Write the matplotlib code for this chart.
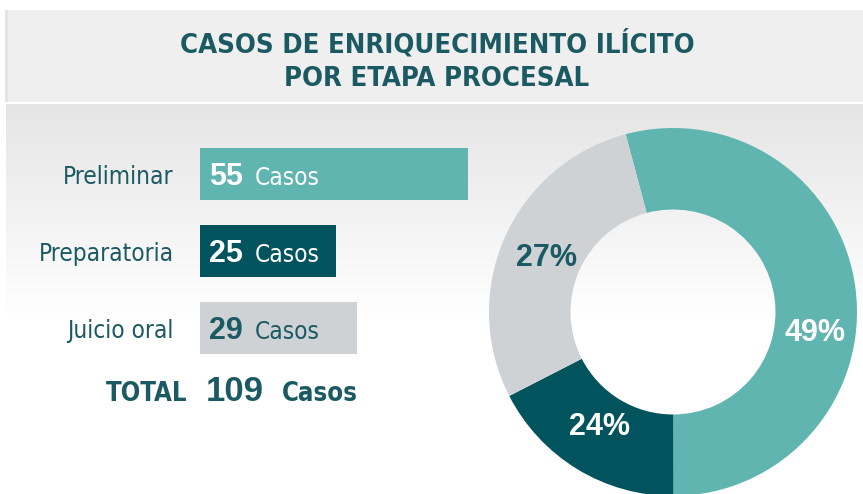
import matplotlib
matplotlib.use("Agg")
import matplotlib.pyplot as plt
import numpy as np
from matplotlib.patches import Rectangle
from matplotlib.colors import LinearSegmentedColormap
from matplotlib.font_manager import FontProperties, fontManager
from matplotlib.textpath import TextPath

title_lines = ["CASOS DE ENRIQUECIMIENTO ILÍCITO", "POR ETAPA PROCESAL"]
stages = ["Preliminar", "Preparatoria", "Juicio oral"]
cases = [55, 25, 29]
# bar lengths as drawn in the picture (same units, Preliminar = 55)
bar_lengths = [55, 27.9, 32.2]
# donut wedge shares as drawn in the picture, and the printed percentages
donut_shares = [54.1, 17.5, 28.4]
pct_labels = ["49%", "24%", "27%"]

teal = "#61b5b0"
dark = "#01535e"
grey = "#ced2d5"
ink = "#1b5a62"
colors = [teal, dark, grey]
num_colors = ["white", "white", ink]

# pick a narrow font if one is there
have = {(f.name, f.stretch) for f in fontManager.ttflist}
names = {n for n, s in have}
if "Liberation Sans Narrow" in names:
    narrow_kw = dict(family="Liberation Sans Narrow")
elif any(n == "DejaVu Sans" and s in ("condensed", "semi-condensed") for n, s in have):
    narrow_kw = dict(family="DejaVu Sans", stretch="condensed")
elif "Roboto" in names:
    narrow_kw = dict(family="Roboto")
else:
    narrow_kw = dict(family="DejaVu Sans")


def fit(text, width_px, weight="normal", **kw):
    # font size (pt) that makes the text about width_px wide at dpi 100
    prop = FontProperties(weight=weight, **kw)
    w = TextPath((0, 0), text, size=10, prop=prop).get_extents().width
    return 10 * width_px / (w * 100 / 72)


def nprop(size, weight="normal"):
    return FontProperties(size=size, weight=weight, **narrow_kw)


arial = ["Liberation Sans", "DejaVu Sans"]
reg_size = min(21, fit("Preliminar", 108, **narrow_kw))
bold_size = min(21, fit("TOTAL", 81, weight="bold", **narrow_kw))
title_size = min(24, fit(title_lines[0], 513, weight="bold", **narrow_kw))

fig = plt.figure(figsize=(8.63, 4.94), dpi=100)

# background in pixel coordinates
bg = fig.add_axes([0, 0, 1, 1], zorder=0)
bg.axis("off")
bg.add_patch(Rectangle((5, 10), 858, 92, fc="#efefef", ec="none"))
bg.add_patch(Rectangle((5, 10), 3, 92, fc="#e3e3e3", ec="none"))
cmap = LinearSegmentedColormap.from_list("fade", ["#e5e5e5", "#ffffff"])
grad = np.linspace(0, 1, 200).reshape(-1, 1)
bg.imshow(grad, cmap=cmap, aspect="auto", extent=(6, 863, 320, 104), origin="upper")
bg.set_xlim(0, 863)
bg.set_ylim(494, 0)

bg.text(437, 52, title_lines[0], ha="center", va="baseline", color=ink,
        fontproperties=nprop(title_size, "bold"))
bg.text(437, 86, title_lines[1], ha="center", va="baseline", color=ink,
        fontproperties=nprop(title_size, "bold"))

# total row
total = sum(cases)
bg.text(187, 401, "TOTAL", ha="right", va="baseline", color=ink,
        fontproperties=nprop(bold_size, "bold"))
bg.text(206, 401, str(total), ha="left", va="baseline", fontsize=25,
        fontweight="bold", color=ink, family=arial)
bg.text(282, 401, "Casos", ha="left", va="baseline", color=ink,
        fontproperties=nprop(bold_size, "bold"))

# bars
ax = fig.add_axes([200 / 863, (494 - 366.5) / 494, 268 / 863, 231 / 494], zorder=1)
ax.patch.set_alpha(0)
y = np.arange(len(stages))
ax.barh(y, bar_lengths, height=52 / 77, color=colors, align="center")
ax.set_xlim(0, 55)
ax.set_ylim(2.5, -0.5)
ax.set_yticks(y, stages)
for lab in ax.get_yticklabels():
    lab.set_fontproperties(nprop(reg_size))
    lab.set_color(ink)
ax.tick_params(axis="y", length=0, pad=19)
ax.tick_params(axis="x", bottom=False, labelbottom=False)
for s in ax.spines.values():
    s.set_visible(False)
for i, v in enumerate(cases):
    ax.annotate(str(v), xy=(0, i), xytext=(9, -11), textcoords="offset pixels",
                ha="left", va="baseline", fontsize=22, fontweight="bold",
                color=num_colors[i], family=arial)
    ax.annotate("Casos", xy=(0, i), xytext=(55, -11), textcoords="offset pixels",
                ha="left", va="baseline", color=num_colors[i],
                fontproperties=nprop(reg_size))

# donut
dax = fig.add_axes([(673 - 184) / 863, (494 - 312 - 184) / 494, 368 / 863, 368 / 494], zorder=1)
dax.patch.set_alpha(0)
dax.pie(donut_shares, colors=colors, startangle=104.9, counterclock=False,
        radius=1, wedgeprops=dict(width=0.443, linewidth=0))
dax.set_xlim(-1, 1)
dax.set_ylim(-1, 1)
dax.set_aspect("equal")
dax.axis("off")
pct_pos = [(0.772, -0.158), (-0.402, -0.668), (-0.685, 0.250)]
pct_colors = ["white", "white", ink]
for lab, (px, py), c in zip(pct_labels, pct_pos, pct_colors):
    dax.text(px, py, lab, ha="center", va="baseline", fontsize=22,
             fontweight="bold", color=c, family=arial)

fig.savefig("out.png", dpi=100)
